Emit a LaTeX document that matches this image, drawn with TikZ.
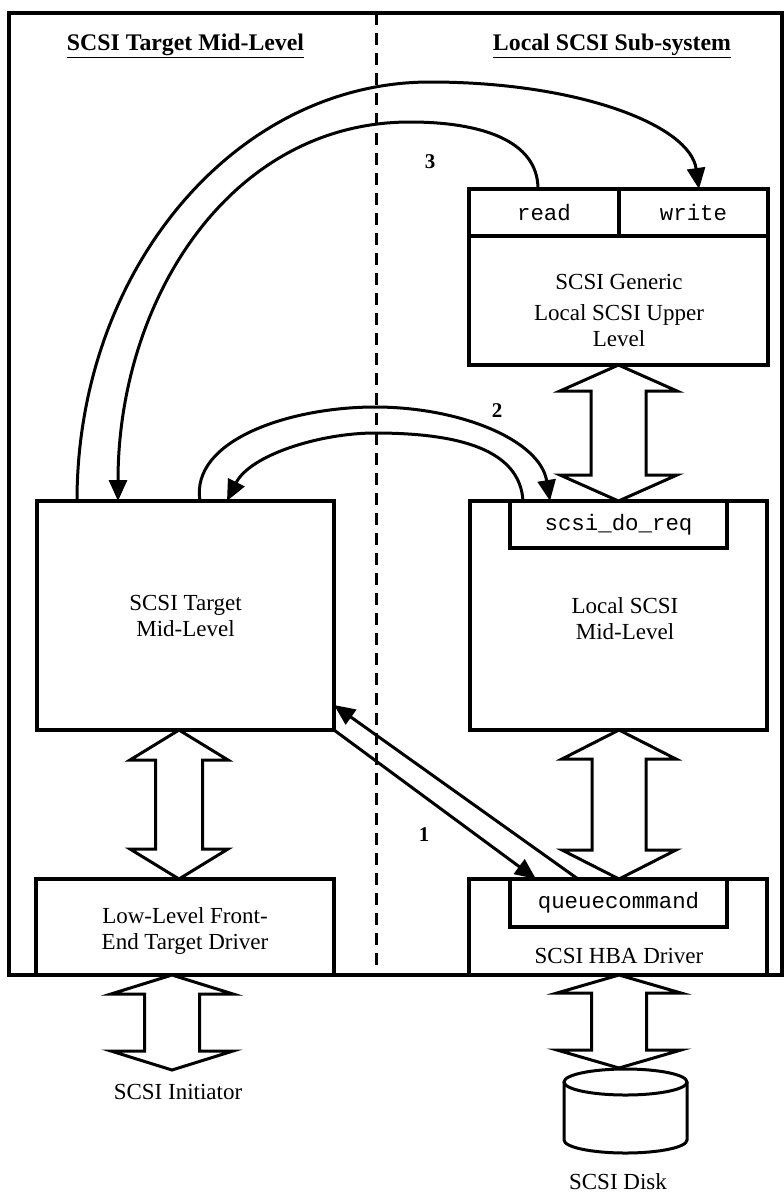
\documentclass[tikz,border=0pt]{standalone}
\usepackage{fontspec}
\setmainfont{Liberation Serif}
\setmonofont{Liberation Mono}
\usetikzlibrary{arrows.meta,calc}

\begin{document}
\begin{tikzpicture}[x=1pt, y=-1pt,
    box/.style={draw, line width=3.3pt, inner sep=0pt, outer sep=0pt, align=center},
    lbl/.style={font=\fontsize{23}{26}\selectfont, align=center},
    code/.style={font=\fontsize{22.4}{26}\selectfont\ttfamily},
    num/.style={font=\fontsize{21}{24}\selectfont\bfseries},
    heading/.style={font=\fontsize{23.8}{27}\selectfont\bfseries},
    flow/.style={line width=3pt, -{Triangle[length=21pt,width=18pt]}},
    fat/.style={draw, line width=3pt, fill=white, line join=miter}]
        \useasboundingbox (0,0) rectangle (784,1195);

        \draw[line width=3.3pt] (9,13) rectangle (782,975);
        \draw[line width=3pt, dash pattern=on 12pt off 8pt] (376,13) -- (376,975);

        \node[heading] (lefttitle) at (185.5,46) {\underline{SCSI Target Mid-Level}};
        \node[heading] (righttitle) at (612,46) {\underline{Local SCSI Sub-system}};

        \node[box, minimum width=299pt, minimum height=176pt] (generic) at (618.5,277) {};
        \node[box, code, minimum width=150pt, minimum height=47pt] (read) at (544,212.5) {read};
        \node[box, code, minimum width=149pt, minimum height=47pt] (write) at (693.5,212.5) {write};
        \node[lbl] (generictxt) at (619,310) {SCSI Generic\\[5pt]Local SCSI Upper\\Level};

        \node[box, lbl, minimum width=297pt, minimum height=229pt] (target) at (185.5,615.5) {SCSI Target\\Mid-Level};
        \node[box, minimum width=297pt, minimum height=229pt] (localmid) at (618.5,615.5) {};
        \node[lbl] (localtxt) at (625,619) {Local SCSI\\Mid-Level};
        \node[box, code, minimum width=217pt, minimum height=47pt] (doreq) at (618.5,524.5) {scsi\_do\_req};

        \node[box, minimum width=298pt, minimum height=96pt] (lowlevel) at (185,927) {};
        \node[lbl] (lowtxt) at (185,931) {Low-Level Front-\\End Target Driver};
        \node[box, minimum width=298pt, minimum height=96pt] (hba) at (618,927) {};
        \node[box, code, minimum width=217pt, minimum height=48pt] (qcmd) at (618.5,903) {queuecommand};
        \node[lbl] (hbatxt) at (619,956) {SCSI HBA Driver};

        \node[lbl] (initiator) at (178,1092) {SCSI Initiator};
        \node[lbl] (disklbl) at (618,1182) {SCSI Disk};

        \draw[line width=3pt] (564,1082) -- (564,1140) arc[start angle=180, end angle=360, x radius=61.5pt, y radius=13pt] -- (687,1082);
        \draw[line width=3pt] (625.5,1082) ellipse [x radius=61.5pt, y radius=13pt];
        \coordinate (disktop) at (619,1068);
        \coordinate (initend) at (172,1070);

        \foreach \xc/\a/\b/\h/\s/\l in {618.5/generic.south/doreq.north/58.5/27.5/26,
                                       179/target.south/lowlevel.north/49/23.5/30,
                                       619/localmid.south/hba.north/57/27/29,
                                       172/lowlevel.south/initend/61/27.5/19,
                                       619/hba.south/disktop/62/27.5/18} {
          \coordinate (t) at (\xc,0 |- \a);
          \coordinate (u) at (\xc,0 |- \b);
          \draw[fat] (t) -- ++(\h,\l) -- ++(\s-\h,0) -- ($(u)+(\s,-\l)$) -- ++(\h-\s,0) -- (u)
                     -- ++(-\h,-\l) -- ++(\h-\s,0) -- ($(t)+(-\s,\l)$) -- ++(\s-\h,0) -- cycle;
        }

        \draw[flow] (target.south east) -- ([xshift=26pt]qcmd.north west);
        \draw[flow] ([xshift=68pt]qcmd.north west) -- ([yshift=25pt]target.south east);
        \node[num] (one) at (424,835) {1};

        \draw[flow] ([xshift=163pt]target.north west) .. controls (190,440) and (290,407) .. (375,407)
                    .. controls (460,407) and (540,440) .. ([xshift=40pt]doreq.north west);
        \draw[flow] ([xshift=13pt]doreq.north west) .. controls (520,450) and (460,433) .. (375,433)
                    .. controls (320,433) and (250,455) .. ([xshift=190pt]target.north west);
        \node[num] (two) at (497,411) {2};

        \draw[flow] ([xshift=40pt]target.north west) .. controls (77,270) and (235,82) .. (430,82)
                    .. controls (578,82) and (690,125) .. ([xshift=80pt]write.north west);
        \draw[flow] ([xshift=-6pt]read.north) .. controls (538,140) and (480,122) .. (410,122)
                    .. controls (230,122) and (118,300) .. ([xshift=81pt]target.north west);
        \node[num] (three) at (430,162) {3};
\end{tikzpicture}
\end{document}
